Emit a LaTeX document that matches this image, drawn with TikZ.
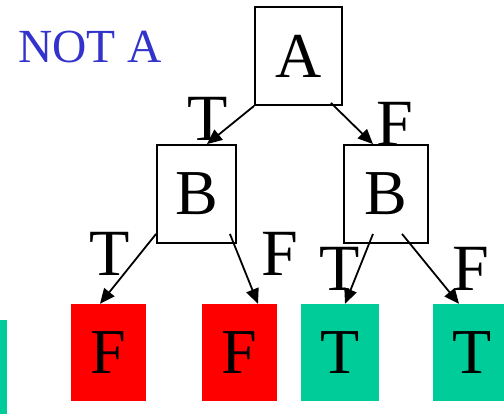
\documentclass[tikz,border=0pt]{standalone}
\usepackage{fontspec}
\setmainfont{Liberation Serif}
\usetikzlibrary{arrows.meta}
\definecolor{notblue}{RGB}{51,51,204}
\definecolor{tealT}{RGB}{0,204,153}
\definecolor{redF}{RGB}{255,0,0}
\tikzset{
  big/.style={font=\fontsize{64}{64}\selectfont},
  lab/.style={font=\fontsize{66}{66}\selectfont, inner sep=0pt, anchor=base},
  varbox/.style={draw, line width=1.8pt, big, inner sep=0pt, minimum height=98pt},
  leafF/.style={fill=redF, big, inner sep=0pt, minimum width=75pt, minimum height=97pt},
  leafT/.style={fill=tealT, big, inner sep=0pt, minimum width=78pt, minimum height=97pt},
  arr/.style={line width=1.8pt, -{Triangle[length=15pt,width=13pt]}}
}
\begin{document}
\begin{tikzpicture}[x=1pt,y=-1pt]
\useasboundingbox (0,0) rectangle (504,413);
\clip (0,0) rectangle (504,413);
\fill[tealT] (-70,320) rectangle (7,420);
\node[anchor=base west, inner sep=0pt, text=notblue, font=\fontsize{47.5}{47.5}\selectfont] (title) at (18,62) {NOT A};
\node[varbox, minimum width=87pt] (A) at (298.5,56) {A};
\node[varbox, minimum width=79pt] (BL) at (196.5,194) {B};
\node[varbox, minimum width=84pt] (BR) at (386,194) {B};
\node[leafF] (F1) at (108.5,352.5) {F};
\node[leafF] (F2) at (239.5,352.5) {F};
\node[leafT] (T1) at (340,352.5) {T};
\node[leafT] (T2) at (472,352.5) {T};
\draw[arr] (A.south west) -- ([xshift=10.5pt]BL.north);
\draw[arr] ([xshift=-12pt,yshift=3pt]A.south east) -- ([xshift=-13pt]BR.north);
\draw[arr] ([yshift=10pt]BL.south west) -- ([xshift=-8.5pt]F1.north);
\draw[arr] ([xshift=-7pt,yshift=10pt]BL.south east) -- ([xshift=18.5pt]F2.north);
\draw[arr] ([xshift=-13pt,yshift=10pt]BR.south) -- ([xshift=5pt]T1.north);
\draw[arr] ([xshift=16pt,yshift=10pt]BR.south) -- ([xshift=-13pt]T2.north);
\node[lab] (lAT) at (208,140) {T};
\node[lab] (lAF) at (395,145) {F};
\node[lab] (lBLT) at (110,275) {T};
\node[lab] (lBLF) at (280,275) {F};
\node[lab] (lBRT) at (340,290) {T};
\node[lab] (lBRF) at (471,290) {F};
\end{tikzpicture}
\end{document}
